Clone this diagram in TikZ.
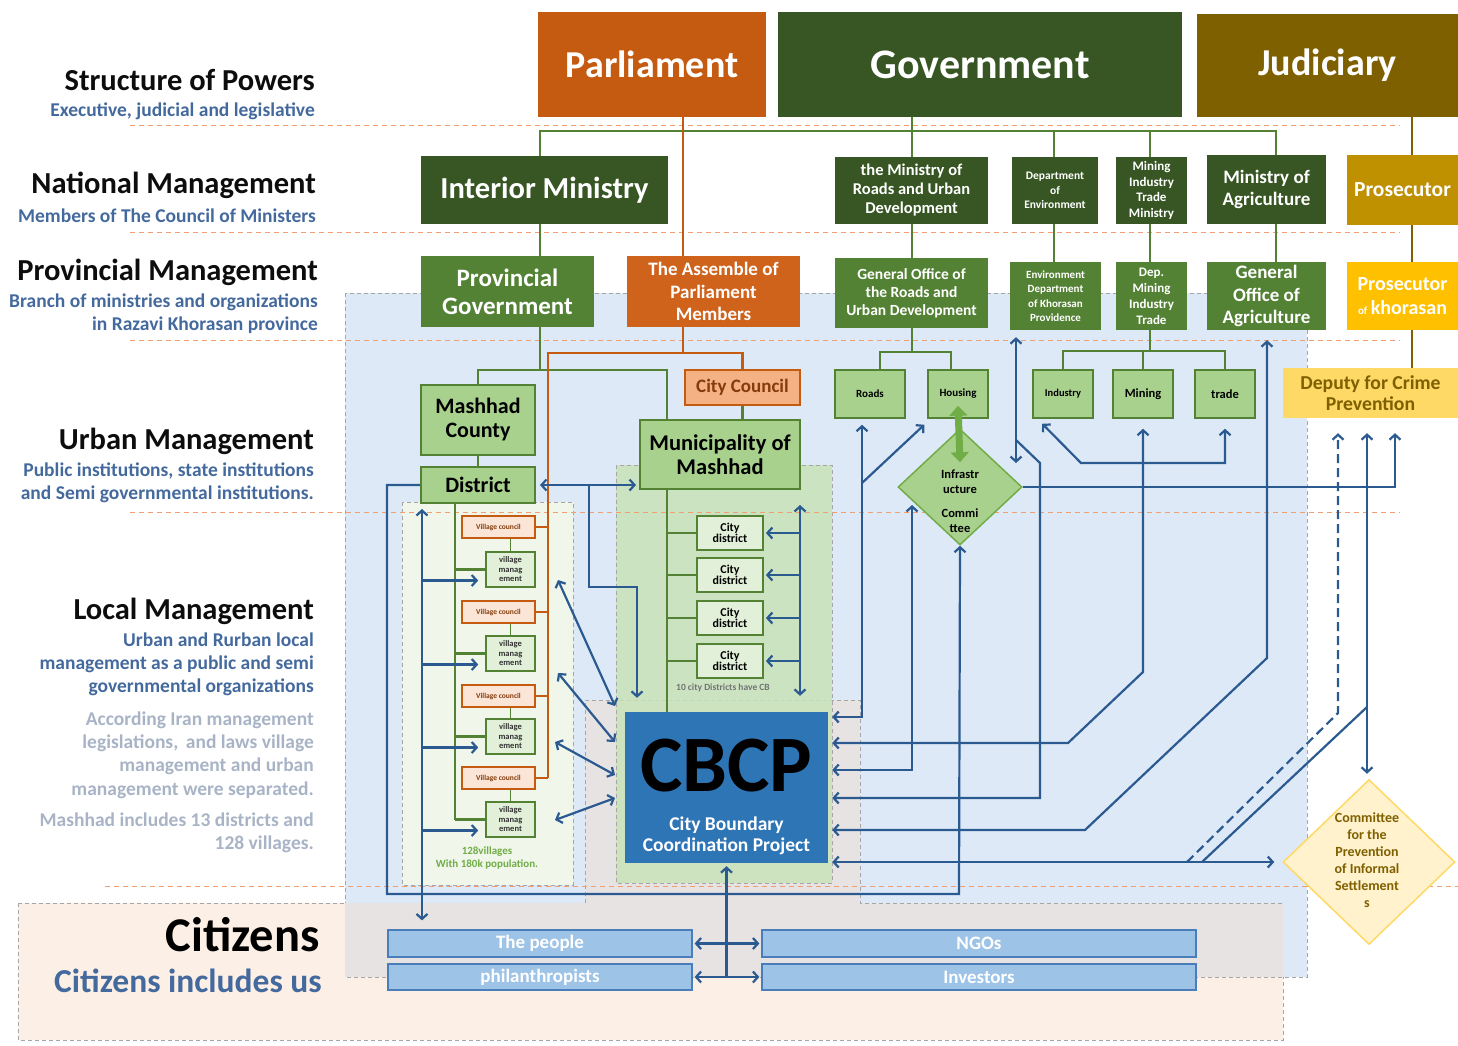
\documentclass[tikz,border=0pt]{standalone}
\usepackage{fontspec}
\setmainfont{Carlito}
\usetikzlibrary{arrows.meta,shapes.geometric,calc}
\pgfdeclarelayer{bg}
\pgfdeclarelayer{mid}
\pgfsetlayers{bg,mid,main}
\newcommand\fsz[2]{\fontsize{#1}{#2}\selectfont\bfseries}
\definecolor{cParl}{HTML}{C55A11}
\definecolor{cGov}{HTML}{375623}
\definecolor{cJud}{HTML}{7F6000}
\definecolor{cMid}{HTML}{548235}
\definecolor{cLight}{HTML}{A9D18E}
\definecolor{cLine}{HTML}{548235}
\definecolor{cAsm}{HTML}{D0631B}
\definecolor{cCC}{HTML}{F4B183}
\definecolor{cCCt}{HTML}{843C0C}
\definecolor{cVC}{HTML}{FBE5D6}
\definecolor{cVM}{HTML}{E2F0D9}
\definecolor{cPros}{HTML}{BF9000}
\definecolor{cProsK}{HTML}{FFC000}
\definecolor{cDep}{HTML}{FFD966}
\definecolor{cCom}{HTML}{FFF2CC}
\definecolor{cArrow}{HTML}{2B5A91}
\definecolor{cCBCP}{HTML}{2E75B6}
\definecolor{cCit}{HTML}{9DC3E6}
\definecolor{cCitB}{HTML}{4A7EBB}
\definecolor{cBlueBg}{HTML}{DDE9F6}
\definecolor{cPeach}{HTML}{FCEFE6}
\definecolor{cGray}{HTML}{E6E3E2}
\definecolor{cMuniBg}{HTML}{C9E2B8}
\definecolor{cVilBg}{HTML}{F0F6EA}
\definecolor{cOrDash}{HTML}{F0A070}
\definecolor{cGrDash}{HTML}{A6A6A6}
\definecolor{cSub}{HTML}{44699D}
\definecolor{cNote}{HTML}{A8B4C6}
\definecolor{cInfra}{HTML}{70AD47}
\tikzset{
 bx/.style={rectangle, inner sep=0pt, align=center},
 dkbox/.style={bx, fill=cGov, text=white},
 mdbox/.style={bx, fill=cMid, text=white},
 ltbox/.style={bx, fill=cLight, draw=cMid, line width=2pt, text=black},
 smbox/.style={bx, fill=cLight, draw=cMid, line width=1.5pt, text=black, minimum width=60, minimum height=48},
 vcbox/.style={bx, fill=cVC, draw=cParl, line width=1.6pt, text=cCCt, font=\fsz{7.5}{8}, minimum width=73, minimum height=22},
 vmbox/.style={bx, fill=cVM, draw=cMid, line width=1.6pt, text=black!80, font=\fsz{8.5}{9.5}, minimum width=49, minimum height=35},
 cdbox/.style={bx, fill=cVM, draw=cMid, line width=1.8pt, text=black, font=\fsz{12}{11}, minimum width=66, minimum height=34},
 citbox/.style={bx, fill=cCit, draw=cCitB, line width=1.2pt, text=white, font=\fsz{19}{20}},
 gline/.style={draw=cLine, line width=2.4pt},
 oline/.style={draw=cParl, line width=2.4pt},
 jline/.style={draw=cJud, line width=2.4pt},
 bline/.style={draw=cArrow, line width=2.2pt},
 odash/.style={draw=cOrDash, line width=1pt, dash pattern=on 5pt off 4pt},
 gdash/.style={draw=cGrDash, line width=0.8pt, dash pattern=on 4pt off 3pt},
 head/.style={anchor=east, inner sep=0pt, align=right, font=\fsz{30.5}{32}, text=black!95},
 subhead/.style={anchor=east, inner sep=0pt, align=right, font=\fsz{19.5}{23}, text=cSub},
 notetxt/.style={anchor=east, inner sep=0pt, align=right, font=\fsz{19.5}{23.3}, text=cNote},
}
\begin{document}
\begin{tikzpicture}[x=1pt,y=-1pt,>={Straight Barb[length=5pt,width=11pt]}]
\useasboundingbox (0,0) rectangle (1458,1045);

% ---------------- nodes ----------------
\node[bx, fill=cParl, text=white, font=\fsz{38}{40}, minimum width=228, minimum height=105] (parl) at (652,64.5) {Parliament};
\node[dkbox, font=\fsz{42}{44}, minimum width=404, minimum height=105] (gov) at (980,64.5) {Government};
\node[bx, fill=cJud, text=white, font=\fsz{38}{40}, minimum width=261, minimum height=103] (jud) at (1327.5,65.5) {Judiciary};

\node[dkbox, font=\fsz{30.5}{31}, minimum width=247, minimum height=68] (interior) at (544.5,190) {Interior Ministry};
\node[dkbox, font=\fsz{16.5}{19}, minimum width=153, minimum height=67] (mroads) at (911.5,190.5) {the Ministry of\\Roads and Urban\\Development};
\node[dkbox, font=\fsz{11.5}{14.5}, minimum width=86, minimum height=67] (denv) at (1055,190.5) {Department\\of\\Environment};
\node[dkbox, font=\fsz{13}{15.5}, minimum width=71, minimum height=67] (mit) at (1151.5,190.5) {Mining\\Industry\\Trade\\Ministry};
\node[dkbox, font=\fsz{19}{22}, minimum width=119, minimum height=69] (magri) at (1266.5,189.5) {Ministry of\\Agriculture};
\node[bx, fill=cPros, text=white, font=\fsz{21.5}{22}, minimum width=111, minimum height=70] (pros) at (1402.5,190) {Prosecutor};

\node[mdbox, font=\fsz{25}{28}, minimum width=173, minimum height=71] (provgov) at (507.5,291.5) {Provincial\\Government};
\node[bx, fill=cAsm, text=white, font=\fsz{19}{22.5}, minimum width=173, minimum height=71] (assemble) at (713.5,291.5) {The Assemble of\\Parliament\\Members};
\node[mdbox, font=\fsz{15.5}{18}, minimum width=153, minimum height=70] (goroads) at (911.5,293) {General Office of\\the Roads and\\Urban Development};
\node[mdbox, font=\fsz{11}{14.5}, minimum width=91, minimum height=68] (envk) at (1055.5,296) {Environment\\Department\\of Khorasan\\Providence};
\node[mdbox, font=\fsz{13}{16}, minimum width=71, minimum height=68] (depmit) at (1151.5,296) {Dep.\\Mining\\Industry\\Trade};
\node[mdbox, font=\fsz{19}{22.5}, minimum width=119, minimum height=68] (goagri) at (1266.5,296) {General\\Office of\\Agriculture};
\node[bx, fill=cProsK, text=white, font=\fsz{20}{24}, minimum width=111, minimum height=68] (prosk) at (1402.5,296) {Prosecutor\\{\fsz{11}{11}of}\,khorasan};

\node[ltbox, font=\fsz{22}{24}, minimum width=114, minimum height=70] (county) at (478,420) {Mashhad\\County};
\node[ltbox, font=\fsz{22}{24}, minimum width=114, minimum height=36] (district) at (478,485) {District};
\node[bx, fill=cCC, draw=cParl, line width=2pt, text=cCCt, font=\fsz{19}{20}, minimum width=115, minimum height=35] (citycouncil) at (742.5,387.5) {City Council};
\node[ltbox, font=\fsz{22.5}{24}, minimum width=160, minimum height=69] (muni) at (720,454.5) {Municipality of\\Mashhad};

\node[smbox, font=\fsz{11}{12}, minimum width=70] (roads) at (870,394) {Roads};
\node[smbox, font=\fsz{11}{12}] (housing) at (958,394) {Housing};
\node[smbox, font=\fsz{10.5}{12}] (industry) at (1063,394) {Industry};
\node[smbox, font=\fsz{12.5}{13}] (mining) at (1143,394) {Mining};
\node[smbox, font=\fsz{12.5}{13}] (trade) at (1225,394) {trade};
\node[bx, fill=cDep, text=cJud, font=\fsz{19.7}{21}, minimum width=175, minimum height=50] (deputy) at (1370.5,393) {Deputy for Crime\\Prevention};

\node[diamond, fill=cLight, draw=cInfra, line width=1.5pt, minimum width=124, minimum height=116, inner sep=0pt] (infra) at (960,487) {};
\node[font=\fsz{12.5}{15}, align=center] (infratxt) at (960,501) {Infrastr\\ucture\\[9pt]Commi\\ttee};

\node[diamond, fill=cCom, draw=cDep, line width=1.5pt, minimum width=172, minimum height=165, inner sep=0pt] (committee) at (1369,862) {};
\node[text=cJud, font=\fsz{14}{17}, align=center] (comtxt) at (1367,860) {Committee\\for the\\Prevention\\of Informal\\Settlement\\s};

\node[vcbox] (vc1) at (498.5,527) {Village council};
\node[vcbox] (vc2) at (498.5,612) {Village council};
\node[vcbox] (vc3) at (498.5,696) {Village council};
\node[vcbox] (vc4) at (498.5,778) {Village council};
\node[vmbox] (vm1) at (510.5,569.5) {village\\manag\\ement};
\node[vmbox] (vm2) at (510.5,653.5) {village\\manag\\ement};
\node[vmbox] (vm3) at (510.5,736.5) {village\\manag\\ement};
\node[vmbox] (vm4) at (510.5,819.5) {village\\manag\\ement};
\node[cdbox] (cd1) at (730,533) {City\\district};
\node[cdbox] (cd2) at (730,575) {City\\district};
\node[cdbox] (cd3) at (730,618) {City\\district};
\node[cdbox] (cd4) at (730,661) {City\\district};
\node[font=\fsz{9.5}{10}, text=black!55] (cdnote) at (723,688) {10 city Districts have CB};
\node[font=\fsz{11}{13}, text=cInfra, align=center] (vilnote) at (487,857.5) {128villages\\With 180k population.};

\node[bx, fill=cCBCP, minimum width=203, minimum height=151] (cbcp) at (726.5,787.5) {};
\node[font=\fsz{80}{80}, text=black] (cbcpt) at (726.5,766) {CBCP};
\node[font=\fsz{19.5}{21}, text=white, align=center] (cbcps) at (726.5,835.5) {City Boundary\\Coordination Project};

\node[citbox, minimum width=304, minimum height=27] (people) at (540,943.5) {The people};
\node[citbox, minimum width=304, minimum height=26] (phil) at (540,977) {philanthropists};
\node[citbox, minimum width=434, minimum height=27] (ngos) at (979,943.5) {NGOs};
\node[citbox, minimum width=434, minimum height=26] (inv) at (979,977) {Investors};

% left labels
\node[head] (h1) at (315,80) {Structure of Powers};
\node[subhead] (s1) at (315,111) {Executive, judicial and legislative};
\node[head] (h2) at (316,185) {National Management};
\node[subhead] (s2) at (316,216) {Members of The Council of Ministers};
\node[head] (h3) at (318,272) {Provincial Management};
\node[subhead] (s3) at (318,313.5) {Branch of ministries and organizations\\in Razavi Khorasan province\hspace{4pt}};
\node[head] (h4) at (314,441) {Urban Management};
\node[subhead] (s4) at (314,482.5) {Public institutions, state institutions\\and Semi governmental institutions.};
\node[head] (h5) at (314,611) {Local Management};
\node[subhead] (s5) at (314,664) {Urban and Rurban local\\management as a public and semi\\governmental organizations};
\node[notetxt] (n1) at (314,755) {According Iran management\\legislations,\, and laws village\\management and urban\\management were separated.};
\node[notetxt] (n2) at (314,833) {Mashhad includes 13 districts and\\128 villages.\hspace{9pt}};
\node[anchor=east, inner sep=0pt, font=\fsz{48.5}{50}, text=black] (cit) at (320,935) {Citizens};
\node[anchor=east, inner sep=0pt, font=\fsz{33.5}{35}, text=cSub] (citsub) at (322,981) {Citizens includes us};

% thick green arrow housing <-> committee diamond
\draw[line width=7pt, draw=cInfra, {Triangle[width=18pt,length=10pt]}-{Triangle[width=18pt,length=10pt]}] ($(housing.south)+(0,-13)$) -- ($(infra.north)+(0,34)$);

% ---------------- backgrounds ----------------
\begin{pgfonlayer}{bg}
\fill[cPeach] (18,903) rectangle (1283,1040);
\draw[gdash] (18,903) rectangle (1283,1040);
\fill[cBlueBg] (345,293) rectangle (1307,977);
\draw[gdash] (345,293) rectangle (1307,977);
\fill[cGray] (345,903) rectangle (1283,977);
\fill[cGray] (585,700) rectangle (860,903);
\draw[gdash] (585,903) -- (585,700) -- (860,700) -- (860,903) -- (1283,903);
\fill[cMuniBg, opacity=0.85] (616,465) rectangle (832,883);
\draw[gdash] (616,465) rectangle (832,883);
\fill[cVilBg] (402,502) rectangle (573,885);
\draw[gdash] (402,502) rectangle (573,885);
\draw[odash] (130,125) -- (1400,125);
\draw[odash] (130,232) -- (1400,232);
\draw[odash] (130,340) -- (1400,340);
\draw[odash] (130,512) -- (1400,512);
\draw[odash] (105,886) -- (1458,886);
\end{pgfonlayer}

% ---------------- connectors ----------------
\begin{pgfonlayer}{mid}
\coordinate (gbus) at (912,131);
\coordinate (xA) at (1276,0);
\coordinate (xE) at (1054,0);
\coordinate (xM) at (1150,0);
\coordinate (xI) at (540,0);
\draw[gline] (interior.north -| xI) -- (gbus -| xI) -- (gbus -| xA) -- (magri.north -| xA);
\draw[gline] (gov.south -| gbus) -- (mroads.north -| gbus);
\draw[gline] (gbus -| xE) -- (denv.north -| xE);
\draw[gline] (gbus -| xM) -- (mit.north -| xM);
\draw[gline] (interior.south -| xI) -- (provgov.north -| xI);
\draw[gline] (mroads.south -| gbus) -- (goroads.north -| gbus);
\draw[gline] (denv.south -| xE) -- (envk.north -| xE);
\draw[gline] (mit.south -| xM) -- (depmit.north -| xM);
\draw[gline] (magri.south -| xA) -- (goagri.north -| xA);

% provincial government -> county, municipality
\coordinate (pbus) at (540,370);
\coordinate (xMu) at (667,0);
\draw[gline] (provgov.south -| xI) -- (pbus);
\draw[gline] (county.north) -- (county.north |- pbus) -- (pbus -| xMu) -- (muni.north -| xMu);
\draw[gline] (county.south) -- (district.north);
\draw[gline] (citycouncil.south) -- (muni.north -| citycouncil.south);
\draw[gline] (muni.south -| xMu) -- (cbcp.north -| xMu);
\foreach \i in {1,2,3,4} { \draw[gline] (cd\i.west) -- (cd\i.west -| xMu); }

% district spine
\coordinate (xD) at (455,0);
\draw[gline] (district.south -| xD) -- (vm4.west -| xD);
\foreach \i in {1,2,3,4} {
  \draw[gline] (vm\i.west) -- (vm\i.west -| xD);
  \draw[gline, line width=1.8pt] (vc\i.south -| vm\i.north) -- (vm\i.north);
}

% parliament lines
\coordinate (xP) at (683,0);
\coordinate (abus) at (683,353);
\coordinate (xV) at (548,0);
\draw[oline] (parl.south -| xP) -- (assemble.north -| xP);
\draw[oline] (assemble.south -| xP) -- (abus);
\draw[oline] (vc4.east -| xV) -- (abus -| xV) -- (abus -| citycouncil.north) -- (citycouncil.north);
\foreach \i in {1,2,3,4} { \draw[oline] (vc\i.east) -- (vc\i.east -| xV); }

% roads / mining buses
\coordinate (rbus) at (912,352);
\draw[gline] (goroads.south -| rbus) -- (rbus);
\draw[gline] ([xshift=10pt]roads.north) -- ([xshift=10pt]roads.north |- rbus) -- ([xshift=-7pt]housing.north |- rbus) -- ([xshift=-7pt]housing.north);
\coordinate (mbus) at (1150,351);
\draw[gline] (depmit.south -| mbus) -- (mbus);
\draw[gline] (industry.north) |- (mbus) -| (trade.north);
\draw[gline] (mining.north) -- (mining.north |- mbus);

% judiciary
\coordinate (xJ) at (1412,0);
\draw[jline] (jud.south -| xJ) -- (pros.north -| xJ);
\draw[jline] (pros.south -| xJ) -- (prosk.north -| xJ);
\draw[jline] (prosk.south -| xJ) -- (deputy.north -| xJ);

% ---- blue arrows ----
\coordinate (bbus) at (959,894);
\draw[bline,->] (district.west) -- ++(-33,0) |- (bbus) -- (infra.south);
\coordinate (xL) at (422,0);
\draw[bline,<->, shorten <=5pt, shorten >=9pt] (district.south -| xL) -- (people.north -| xL);
\foreach \i in {1,2,3,4} {
  \draw[bline,->, shorten >=7pt] ($(vm\i.west -| xL)+(0,11)$) -- ($(vm\i.west)+(0,11)$);
}
\draw[bline,<->, shorten <=4pt, shorten >=3pt] (district.east) -- (district.east -| muni.west);
\coordinate (j1) at (589,485);
\coordinate (j1b) at (637,587);
\draw[bline,->, shorten >=14pt] (j1) |- (j1b) -- (j1b |- cbcp.north);
\coordinate (xR) at (800,0);
\draw[bline,<->, shorten <=15pt, shorten >=16pt] (muni.south -| xR) -- (cbcp.north -| xR);
\foreach \i in {1,2,3,4} { \draw[bline,->, shorten >=2pt] (cd\i.east -| xR) -- (cd\i.east); }

\coordinate (d1a) at (558,580); \coordinate (d1b) at (615,706);
\coordinate (d2a) at (558,673); \coordinate (d2b) at (615,742);
\coordinate (d3a) at (555,742); \coordinate (d3b) at (615,775);
\coordinate (d4a) at (555,820); \coordinate (d4b) at (615,798);
\draw[bline,<->] (d1a) -- (d1b);
\draw[bline,<->] (d2a) -- (d2b);
\draw[bline,<->] (d3a) -- (d3b);
\draw[bline,<->] (d4a) -- (d4b);

% right side into CBCP
\coordinate (r1) at (862,717);
\coordinate (r1b) at (862,483);
\draw[bline,<->, shorten <=6pt, shorten >=4pt] (roads.south -| r1) -- (r1) -- (cbcp.east |- r1);
\draw[bline,->] (r1b) -- ($(housing.south west)+(-3,6)$);
\coordinate (m1) at (1143,672);
\coordinate (m2) at (1068,743);
\draw[bline,<->, shorten <=10pt, shorten >=4pt] (mining.south) -- (m1) -- (m2) -- (cbcp.east |- m2);
\coordinate (i0) at (912,505);
\coordinate (i1) at (912,770);
\draw[bline,<->, shorten >=4pt] (i0) -- (i1) -- (cbcp.east |- i1);
\coordinate (e1) at (1016,440);
\coordinate (e0) at (1016,463);
\coordinate (e2) at (1040,463);
\coordinate (e3) at (1040,798);
\draw[bline,<->, shorten <=7pt] (envk.south -| e1) -- (e0);
\draw[bline,->, shorten >=4pt] (e1) -- (e2) -- (e3) -- (cbcp.east |- e3);
\coordinate (a1) at (1267,658);
\coordinate (a2) at (1085,830);
\draw[bline,<->, shorten <=10pt, shorten >=4pt] (goagri.south -| a1) -- (a1) -- (a2) -- (cbcp.east |- a2);
\coordinate (c1) at (1275,862);
\draw[bline,<->, shorten <=4pt, shorten >=8pt] (cbcp.east |- c1) -- (committee.west);
\coordinate (dp1) at (1338,713);
\coordinate (dp2) at (1187,862);
\draw[bline,->, dash pattern=on 9pt off 5pt, shorten >=15pt] (dp2) -- (dp1) -- (deputy.south -| dp1);
\coordinate (dq1) at (1367,707);
\coordinate (dq2) at (1202,862);
\draw[bline,<->, shorten <=15pt, shorten >=5pt] (deputy.south -| dq1) -- (committee.north -| dq1);
\draw[bline] (dq1) -- (dq2);
\coordinate (dr) at (1395,0);
\draw[bline,->, shorten >=15pt] (infra.east) -- (infra.east -| dr) -- (deputy.south -| dr);
\coordinate (t1) at (1081,463);
\draw[bline,<->, shorten >=10pt] ($(industry.south west)+(10,5)$) -- (t1) -- (t1 -| trade.south) -- (trade.south);

% citizens
\draw[bline,<->, shorten <=2pt, shorten >=2pt] (people.east) -- (ngos.west);
\draw[bline,<->, shorten <=2pt, shorten >=2pt] (phil.east) -- (inv.west);
\draw[bline,->, shorten >=3pt] (phil.east -| cbcp.south) -- (cbcp.south);
\end{pgfonlayer}
\end{tikzpicture}
\end{document}
